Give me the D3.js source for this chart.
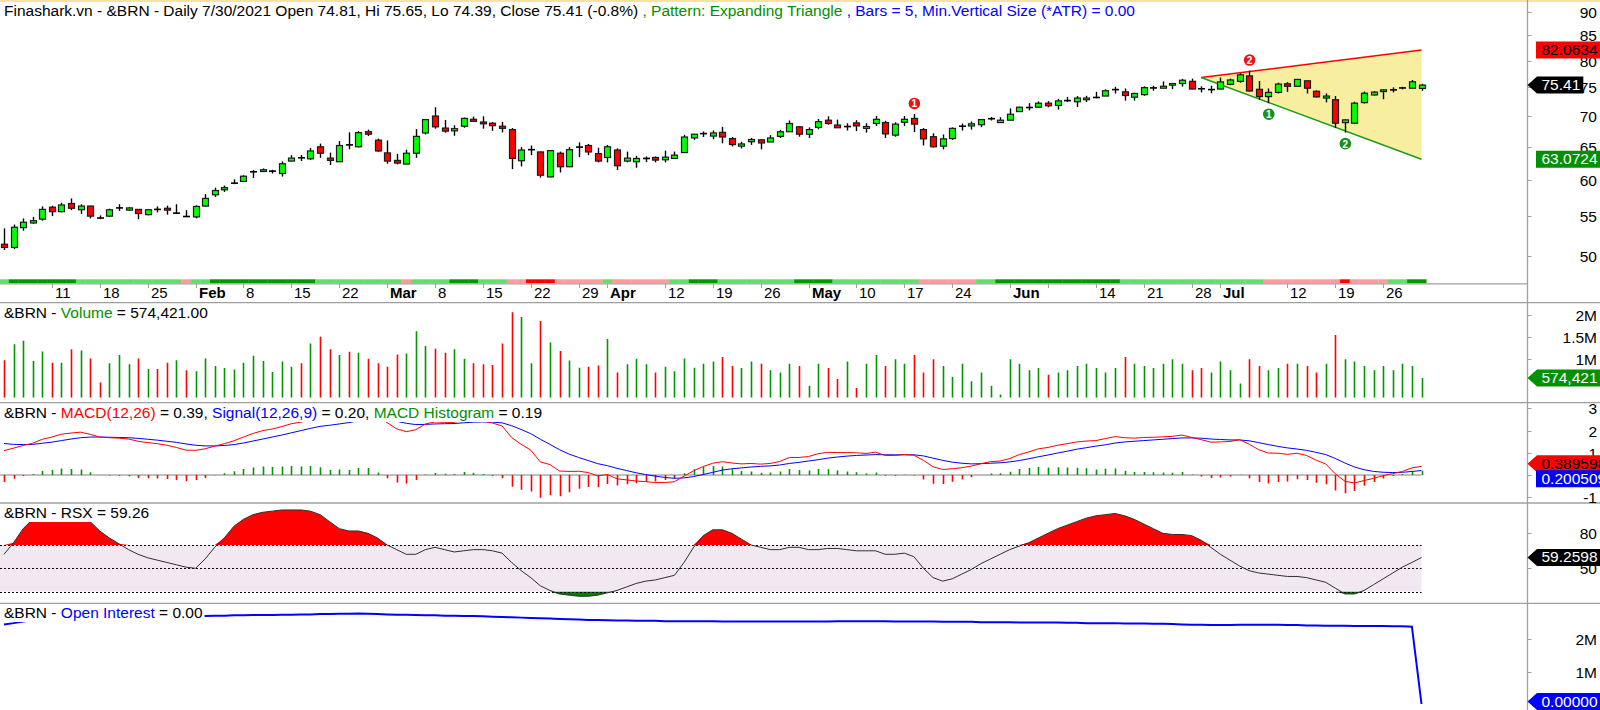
<!DOCTYPE html>
<html><head><meta charset="utf-8">
<script src="https://cdn.jsdelivr.net/npm/d3@7"></script>
<style>body{margin:0;background:#fff;} svg{display:block;font-family:Arial,"Liberation Sans",sans-serif;}</style>
</head><body><svg id="c" width="1600" height="710"></svg>
<script>
// ---------- categories ----------
const holidays = ["2021-04-02"];
const dates = [];
for (let t = Date.UTC(2021,0,4); t <= Date.UTC(2021,6,30); t += 864e5) {
  const d = new Date(t), w = d.getUTCDay(), s = d.toISOString().slice(0,10);
  if (w > 0 && w < 6 && !holidays.includes(s)) dates.push(s);
}
const dateTicks = [["2021-01-11","11"],["2021-01-18","18"],["2021-01-25","25"],["2021-02-01","Feb"],["2021-02-08","8"],["2021-02-15","15"],["2021-02-22","22"],["2021-03-01","Mar"],["2021-03-08","8"],["2021-03-15","15"],["2021-03-22","22"],["2021-03-29","29"],["2021-04-01","Apr"],["2021-04-12","12"],["2021-04-19","19"],["2021-04-26","26"],["2021-05-03","May"],["2021-05-10","10"],["2021-05-17","17"],["2021-05-24","24"],["2021-06-01","Jun"],["2021-06-07",""],["2021-06-14","14"],["2021-06-21","21"],["2021-06-28","28"],["2021-07-01","Jul"],["2021-07-12","12"],["2021-07-19","19"],["2021-07-26","26"]];
const monthLabels = ["Feb","Mar","Apr","May","Jun","Jul"];

// ---------- price series ----------
const open = [51.4,51.0,53.5,54.1,54.6,56.2,55.6,56.7,55.85,56.35,
54.9,55.0,56.0,55.8,55.9,55.2,55.95,56.05,55.35,55.05,
54.9,56.35,57.9,58.6,59.5,59.8,61.0,61.25,61.2,60.95,
62.8,63.35,63.15,65.0,63.25,62.7,65.4,65.0,67.4,66.05,
64.05,62.9,62.35,64.0,67.2,70.0,68.0,67.55,68.3,69.45,
69.0,68.8,68.3,67.75,62.85,64.45,64.2,60.45,64.0,61.95,
64.75,65.2,63.95,63.35,64.5,62.8,62.7,63.15,63.35,63.0,
63.2,64.1,66.4,67.0,66.7,67.3,66.3,65.1,65.8,66.1,
65.75,66.65,67.4,68.2,67.0,68.1,69.3,68.5,68.2,68.85,
67.95,68.75,68.9,66.85,68.95,69.6,67.75,66.6,65.1,66.3,
68.1,68.35,68.55,69.5,68.9,69.3,70.75,71.4,71.5,72.2,
71.8,72.6,72.45,72.8,73.15,73.45,74.55,74.2,73.25,73.7,
74.85,74.85,75.4,75.7,76.1,74.8,74.55,74.7,75.55,76.1,
77.1,74.65,73.35,74.1,75.65,75.2,76.2,74.3,73.1,72.8,
68.9,68.8,72.3,73.65,74.25,74.5,74.8,74.85,74.81];
const high = [53.4,53.9,54.7,54.9,56.3,56.4,56.8,57.4,56.6,56.4,
55.1,56.0,56.6,56.2,55.95,55.9,56.3,56.4,56.6,55.8,
56.45,58.0,58.9,59.2,60.1,60.7,61.45,61.7,61.5,62.75,
63.7,63.75,64.8,65.5,64.1,65.9,67.3,67.5,67.75,66.3,
66.0,63.9,64.55,67.85,69.5,71.5,69.35,68.45,69.75,69.9,
69.95,69.0,69.0,68.0,64.95,65.2,64.25,64.45,64.25,64.95,
65.7,65.45,64.85,65.3,64.75,64.25,63.6,63.5,63.5,64.4,
64.25,66.9,67.05,67.45,67.6,68.2,66.55,65.8,66.4,66.2,
66.85,67.7,69.25,68.3,68.1,69.5,69.95,69.4,68.8,69.3,
68.8,70.0,69.2,68.95,70.0,70.35,68.0,67.15,66.95,68.1,
68.75,69.1,69.45,69.85,69.8,71.3,71.6,72.2,72.5,72.55,
72.95,73.3,73.45,73.5,74.2,74.65,75.1,74.8,74.05,75.2,
75.3,76.1,75.8,76.55,76.6,75.2,75.3,76.8,76.6,77.6,
78.1,76.15,74.8,75.85,75.95,76.55,76.2,74.45,73.9,73.45,
69.45,72.45,74.25,74.35,74.65,75.0,75.1,76.35,75.65];
const low = [50.7,50.8,53.1,54.0,54.4,55.0,55.5,55.8,55.3,54.7,
54.6,54.9,55.7,55.7,54.6,55.1,55.5,55.2,55.3,54.9,
54.7,56.25,57.6,58.3,59.4,59.75,60.3,61.15,60.95,60.5,
62.75,62.8,62.95,63.3,62.2,62.7,64.6,64.9,66.7,64.2,
62.4,62.3,62.35,63.3,66.95,67.9,67.25,66.75,68.05,69.0,
67.9,67.55,67.3,61.6,62.0,63.7,60.35,60.4,61.1,61.9,
63.4,63.7,62.6,62.6,61.45,62.6,61.8,62.65,62.6,62.6,
63.2,64.1,66.1,66.55,66.2,65.55,65.05,64.75,65.3,64.6,
65.75,66.4,67.4,66.6,66.4,67.8,68.55,68.05,67.6,67.5,
67.25,68.35,66.4,66.6,68.35,67.35,65.2,64.9,64.6,66.1,
67.6,67.75,68.15,69.25,68.9,69.3,70.75,70.95,71.4,71.5,
71.1,72.4,71.55,72.4,73.05,73.45,73.9,72.65,72.65,73.5,
74.4,74.85,74.7,75.15,74.65,74.1,73.95,74.7,75.4,75.85,
74.25,72.8,72.2,73.9,74.2,75.2,73.9,73.2,72.35,68.0,
67.25,68.8,72.15,73.55,72.9,74.1,74.65,74.85,74.39];
const close = [51.0,53.55,54.2,54.4,55.9,55.6,56.5,56.05,56.35,55.0,
54.75,55.85,56.1,56.1,55.35,55.85,55.9,55.8,55.4,54.95,
56.3,57.4,58.5,58.9,59.55,60.55,61.2,61.5,61.3,62.4,
63.25,63.3,64.35,64.0,62.9,65.2,65.3,67.25,67.0,64.35,
62.8,62.5,64.0,66.65,69.4,68.2,67.5,67.9,69.6,69.1,
68.7,68.4,67.95,63.2,64.5,64.55,60.7,64.4,61.95,64.55,
64.95,64.2,62.8,65.0,62.1,63.25,63.2,63.2,62.95,63.4,
63.7,66.55,67.0,67.1,67.2,66.55,65.35,65.45,66.15,65.6,
66.4,67.4,68.75,67.0,67.75,69.05,68.75,68.05,68.25,68.35,
68.25,69.45,67.05,68.65,69.45,68.65,66.25,65.0,66.25,67.95,
68.3,68.7,69.4,69.55,69.3,70.3,71.5,71.45,72.2,71.75,
72.6,72.65,73.1,73.1,73.2,74.4,74.6,73.55,73.9,74.95,
74.9,75.2,75.7,76.3,74.7,74.75,74.6,76.0,76.35,77.3,
74.35,73.35,74.1,75.6,75.2,76.45,74.85,73.3,73.45,68.8,
69.35,72.2,73.95,74.15,74.55,74.55,74.9,76.02,75.41];
// trend ribbon under the price pane: 2 strong up, 1 up, -1 down, -2 strong down
const ribbon = [1,2,2,2,2,2,2,2,1,1, 1,1,1,1,1,1,1,1,1,-1, 1,1,2,2,2,2,2,2,2,2,
2,2,2,1,1,1,1,1,1,1, 1,1,-1,1,1,1,1,2,2,2, 1,1,1,-1,-1,-2,-2,-2,-1,-1,
-1,-1,-1,1,-1,-1,-1,-1,-1,-1, 1,1,2,2,2,1,1,1,1,1, 1,1,1,2,2,2,2,1,1,1,
1,1,1,1,1,1,-1,-1,-1,-1, -1,-1,1,1,2,2,2,2,2,2, 2,2,2,2,2,2,2,1,1,1,
1,1,1,1,1,1,1,1,1,1, 1,1,-1,-1,-1,-1,-1,-1,-1,-1, -2,-1,-1,-1,-1,1,1,2,2];
// expanding triangle
const triStart = "2021-06-29", triEnd = "2021-07-30";
const triApex = 76.8, triUpperEnd = 82.0634, triLowerEnd = 63.0724;
const pivotsHigh = [["2021-05-18","1"],["2021-07-06","2"]];
const pivotsLow = [["2021-07-08","1"],["2021-07-20","2"]];

// ---------- volume (millions) ----------
const volume = [0.98,1.34,1.42,0.96,1.18,0.92,0.92,1.23,1.20,1.02,
0.47,0.91,1.10,0.89,1.02,0.78,0.78,0.92,0.98,0.75,
0.73,1.02,0.85,0.80,0.77,0.92,1.08,0.96,0.71,0.95,
0.83,0.91,1.36,1.51,1.23,1.10,1.17,1.15,1.01,0.91,
0.83,1.11,1.13,1.64,1.30,1.24,1.15,1.23,1.01,0.91,
0.89,0.87,1.36,2.07,1.96,0.91,1.87,1.38,1.19,0.97,
0.81,0.83,0.86,1.46,0.70,0.89,1.01,0.89,0.70,0.83,
0.73,1.02,0.81,0.9,0.95,1.05,0.85,0.8,0.95,0.9,
0.75,0.7,0.9,0.85,0.4,0.9,0.8,0.55,0.95,0.35,
0.9,1.1,0.85,1.0,0.9,1.1,0.7,1.0,0.85,0.6,
0.9,0.5,0.7,0.4,0.2,1.0,0.9,0.75,0.8,0.65,
0.7,0.75,0.85,0.9,0.8,0.7,0.8,1.05,0.9,0.85,
0.8,0.9,1.0,0.9,0.75,0.8,0.7,0.95,0.75,0.45,
1.0,0.85,0.75,0.8,0.9,0.9,0.85,0.7,0.9,1.55,
1.0,0.95,0.85,0.75,0.85,0.75,0.9,0.85,0.574421];

// ---------- MACD(12,26), Signal(9), Histogram ----------
const macd = [1.10,1.21,1.33,1.43,1.61,1.71,1.84,1.89,1.93,1.83,
1.71,1.68,1.66,1.62,1.52,1.46,1.41,1.34,1.24,1.12,
1.11,1.18,1.30,1.41,1.54,1.71,1.87,2.00,2.07,2.18,
2.31,2.38,2.50,2.54,2.46,2.55,2.59,2.76,2.84,2.66,
2.36,2.08,1.95,2.04,2.30,2.39,2.37,2.37,2.48,2.48,
2.43,2.34,2.21,1.69,1.38,1.12,0.59,0.47,0.18,0.16,
0.17,0.11,-0.04,0.02,-0.17,-0.22,-0.27,-0.30,-0.34,-0.34,
-0.30,-0.05,0.19,0.38,0.53,0.60,0.54,0.50,0.52,0.49,
0.52,0.61,0.79,0.79,0.83,0.96,1.02,1.01,1.01,1.00,
0.97,1.03,0.88,0.88,0.92,0.89,0.66,0.37,0.25,0.28,
0.33,0.40,0.51,0.60,0.63,0.74,0.92,1.04,1.18,1.24,
1.34,1.41,1.49,1.53,1.55,1.64,1.73,1.68,1.66,1.69,
1.70,1.72,1.74,1.80,1.69,1.59,1.48,1.49,1.51,1.59,
1.39,1.14,0.99,0.98,0.93,0.98,0.88,0.67,0.50,0.05,
-0.28,-0.36,-0.25,-0.15,-0.03,0.06,0.16,0.32,0.389598];
const signal = [1.42,1.38,1.37,1.38,1.43,1.48,1.55,1.62,1.68,1.71,
1.71,1.70,1.69,1.68,1.65,1.61,1.57,1.52,1.47,1.40,
1.34,1.31,1.31,1.33,1.37,1.44,1.53,1.62,1.71,1.80,
1.90,2.00,2.10,2.19,2.24,2.30,2.36,2.44,2.52,2.55,
2.51,2.42,2.33,2.27,2.28,2.30,2.31,2.32,2.35,2.38,
2.39,2.38,2.35,2.22,2.05,1.86,1.61,1.38,1.14,0.94,
0.79,0.65,0.51,0.42,0.30,0.20,0.10,0.02,-0.05,-0.11,
-0.15,-0.13,-0.07,0.02,0.12,0.22,0.28,0.32,0.36,0.39,
0.41,0.45,0.52,0.57,0.63,0.69,0.76,0.81,0.85,0.88,
0.90,0.92,0.91,0.91,0.91,0.91,0.86,0.76,0.66,0.58,
0.53,0.50,0.51,0.53,0.55,0.59,0.65,0.73,0.82,0.90,
0.99,1.07,1.16,1.23,1.30,1.36,1.44,1.49,1.52,1.55,
1.58,1.61,1.64,1.67,1.67,1.66,1.62,1.60,1.58,1.58,
1.54,1.46,1.37,1.29,1.22,1.17,1.11,1.02,0.92,0.746,
0.541,0.361,0.239,0.161,0.123,0.110,0.12,0.16,0.200509];
const hist = [-0.32,-0.17,-0.04,0.05,0.18,0.23,0.29,0.27,0.25,0.12,
0.00,-0.02,-0.03,-0.06,-0.13,-0.15,-0.16,-0.18,-0.23,-0.28,
-0.23,-0.13,-0.01,0.08,0.17,0.27,0.34,0.38,0.36,0.38,
0.41,0.38,0.40,0.35,0.22,0.25,0.23,0.32,0.32,0.11,
-0.15,-0.34,-0.38,-0.23,0.02,0.09,0.06,0.05,0.13,0.10,
0.04,-0.04,-0.14,-0.53,-0.67,-0.74,-1.02,-0.91,-0.96,-0.78,
-0.62,-0.54,-0.55,-0.40,-0.47,-0.42,-0.37,-0.32,-0.29,-0.23,
-0.15,0.08,0.26,0.36,0.41,0.38,0.26,0.18,0.16,0.10,
0.11,0.16,0.27,0.22,0.20,0.27,0.26,0.20,0.16,0.12,
0.07,0.11,-0.03,-0.03,0.01,-0.02,-0.20,-0.39,-0.41,-0.30,
-0.20,-0.10,0.00,0.07,0.08,0.15,0.27,0.31,0.36,0.34,
0.35,0.34,0.33,0.30,0.25,0.28,0.29,0.19,0.14,0.14,
0.12,0.11,0.10,0.13,0.02,-0.07,-0.14,-0.11,-0.07,0.01,
-0.15,-0.32,-0.38,-0.31,-0.29,-0.19,-0.23,-0.35,-0.42,-0.696,
-0.821,-0.721,-0.489,-0.311,-0.153,-0.05,0.04,0.16,0.189089];

// ---------- RSX ----------
const rsx = [62,72,84,92,97,99,100,99,96,90,
82,76,71,66,62,59,57,55,53,51,
50,58,68,76,86,92,96,98,99,100,
100,100,99,96,90,84,82,82,80,76,
70,66,62,62,66,68,66,64,65,66,
66,65,63,55,48,42,35,31,28,27,
26,26,27,29,31,34,37,39,40,42,
44,55,68,78,83,83,80,75,70,68,
66,66,68,68,66,66,67,67,66,65,
65,65,62,62,63,60,50,42,39,41,
45,49,54,58,62,66,69,72,76,80,
84,87,90,93,95,96,97,95,92,88,
84,80,79,79,78,74,68,62,57,52,
48,46,45,44,43,43,42,40,38,33,
28,28,31,36,41,46,51,55,59.2598];

// ---------- Open interest (millions) ----------
const oi = [2.46,2.5,2.55,2.6,2.62,2.63,2.64,2.65,2.66,2.67,2.67,2.68,2.68,2.69,2.69,2.7,2.7,2.71,2.71,2.72,
2.72,2.72,2.73,2.73,2.74,2.74,2.75,2.75,2.75,2.76,2.76,2.77,2.77,2.78,2.78,2.79,2.79,2.8,2.79,2.78,
2.77,2.76,2.76,2.75,2.74,2.74,2.73,2.73,2.72,2.72,2.71,2.7,2.69,2.68,2.67,2.66,2.65,2.64,2.63,2.62,
2.61,2.6,2.6,2.59,2.58,2.58,2.57,2.57,2.57,2.56,2.56,2.56,2.56,2.56,2.56,2.55,2.55,2.55,2.55,2.55,
2.55,2.55,2.55,2.55,2.55,2.55,2.55,2.56,2.56,2.56,2.56,2.56,2.56,2.55,2.55,2.55,2.55,2.55,2.54,2.54,
2.54,2.54,2.53,2.53,2.53,2.53,2.52,2.52,2.52,2.52,2.52,2.51,2.51,2.5,2.5,2.5,2.5,2.49,2.49,2.49,
2.48,2.48,2.47,2.46,2.45,2.45,2.44,2.44,2.44,2.45,2.45,2.45,2.45,2.45,2.44,2.44,2.43,2.43,2.42,2.42,
2.42,2.41,2.41,2.41,2.41,2.4,2.4,2.39,0];

// ---------- layout ----------
const svg = d3.select("#c");
const AX = 1527.5, W = 1600, H = 710;
const GRAY = "#a0a0a0", DGREEN = "#009600", FONT = 15.5;
const panes = {price:[0,283.3], vol:[302.7,402.7], macd:[402.7,503], rsx:[503,603.3], oi:[603.3,710]};
const x = d3.scalePoint().domain(dates).range([4, 1421.5]);
const step = x.step();
const cx = d => Math.round(x(d));

const yP = d3.scaleLog().domain([50, 90]).range([255.7, 11.7]);
const yV = d3.scaleLinear().domain([0, 2]).range([403.3, 315.3]);
const yM = d3.scaleLinear().domain([-1, 3]).range([497.2, 408.4]);
const yR = d3.scaleLinear().domain([50, 80]).range([568.3, 533.3]);
const yO = d3.scaleLinear().domain([0, 2]).range([704, 639.3]);

svg.append("rect").attr("width", W).attr("height", H).attr("fill", "#fff");
svg.append("rect").attr("width", W).attr("height", 2).attr("fill", "#f7e2a0");

const defs = svg.append("defs");
Object.entries(panes).forEach(([k,[a,b]]) => {
  defs.append("clipPath").attr("id","clip-"+k).append("rect").attr("x",0).attr("y",a).attr("width",AX).attr("height",b-a);
});
const pane = k => svg.append("g").attr("clip-path", `url(#clip-${k})`);

// ---------- price pane ----------
const gP = pane("price");
const triU = [[triStart, triApex],[triEnd, triUpperEnd]];
const triL = [[triStart, triApex],[triEnd, triLowerEnd]];
gP.append("path").attr("fill", "#f8eea0")
  .attr("d", d3.line()([[x(triStart), yP(triApex)],[x(triEnd), yP(triUpperEnd)],[x(triEnd), yP(triLowerEnd)]]) + "Z");
gP.append("path").attr("fill","none").attr("stroke","#ff0000").attr("stroke-width",1.5)
  .attr("d", d3.line().x(d=>x(d[0])).y(d=>yP(d[1]))(triU));
gP.append("path").attr("fill","none").attr("stroke","#1a9a1a").attr("stroke-width",1.5)
  .attr("d", d3.line().x(d=>x(d[0])).y(d=>yP(d[1]))(triL));

const idx = d3.range(dates.length);
gP.selectAll("line.wick").data(idx).join("line").attr("class","wick")
  .attr("x1", i => cx(dates[i]) + 0.5).attr("x2", i => cx(dates[i]) + 0.5)
  .attr("y1", i => yP(high[i])).attr("y2", i => yP(low[i]))
  .attr("stroke", "#000").attr("stroke-width", 1.4);
gP.selectAll("rect.body").data(idx.filter(i => Math.abs(yP(open[i]) - yP(close[i])) >= 1.5)).join("rect").attr("class","body")
  .attr("x", i => cx(dates[i]) - 2.5).attr("width", 6)
  .attr("y", i => yP(Math.max(open[i], close[i]))).attr("height", i => Math.abs(yP(open[i]) - yP(close[i])))
  .attr("fill", i => close[i] >= open[i] ? "#00ff00" : "#ff0000")
  .attr("stroke", "#1a1a1a").attr("stroke-width", 1.2);
gP.selectAll("line.doji").data(idx.filter(i => Math.abs(yP(open[i]) - yP(close[i])) < 1.5)).join("line").attr("class","doji")
  .attr("x1", i => cx(dates[i]) - 3).attr("x2", i => cx(dates[i]) + 4)
  .attr("y1", i => yP(close[i])).attr("y2", i => yP(close[i]))
  .attr("stroke", "#000").attr("stroke-width", 1.6);

function marker(g, px, py, label, color) {
  g.append("circle").attr("cx", px).attr("cy", py).attr("r", 5.8).attr("fill", color);
  g.append("text").attr("x", px).attr("y", py + 4).attr("text-anchor","middle")
    .attr("fill","#fff").style("font-size","10px").style("font-weight","bold").text(label);
}
pivotsHigh.forEach(([d,l]) => marker(gP, x(d) + 0.5, yP(high[dates.indexOf(d)]) - 10.5, l, "#ee1111"));
pivotsLow.forEach(([d,l]) => marker(gP, x(d) + 0.5, yP(low[dates.indexOf(d)]) + 11, l, "#1a8f1a"));

const ribbonColor = {"2": DGREEN, "1": "#66dd66", "-1": "#ff9c9c", "-2": "#ff0000"};
svg.append("g").selectAll("rect").data(idx).join("rect")
  .attr("x", i => x(dates[i]) - step/2).attr("width", step + 0.3)
  .attr("y", 279.3).attr("height", 4)
  .attr("fill", i => ribbonColor[ribbon[i]]);

svg.append("line").attr("x1",0).attr("x2",AX).attr("y1",283.8).attr("y2",283.8).attr("stroke",GRAY).attr("stroke-width",1.2);
const gX = svg.append("g");
dateTicks.forEach(([d, l]) => {
  const px = cx(d) + 0.5;
  gX.append("line").attr("x1",px).attr("x2",px).attr("y1",284).attr("y2",288).attr("stroke",GRAY);
  gX.append("text").attr("x", px + 2.5).attr("y", 298).text(l)
    .style("font-size", "15px").style("font-weight", monthLabels.includes(l) ? "bold" : "normal").attr("fill","#000");
});

// ---------- volume pane ----------
const gV = pane("vol");
gV.selectAll("line").data(idx).join("line")
  .attr("x1", i => cx(dates[i]) + 0.5).attr("x2", i => cx(dates[i]) + 0.5)
  .attr("y1", 397.5).attr("y2", i => yV(volume[i]))
  .attr("stroke", i => close[i] >= open[i] ? DGREEN : "#ff0000").attr("stroke-width", 1.6);

// ---------- MACD pane ----------
const gM = pane("macd");
gM.append("line").attr("x1",0).attr("x2",x(dates[dates.length-1])).attr("y1",yM(0)).attr("y2",yM(0)).attr("stroke","#808080");
gM.selectAll("line.h").data(idx).join("line").attr("class","h")
  .attr("x1", i => cx(dates[i]) + 0.5).attr("x2", i => cx(dates[i]) + 0.5)
  .attr("y1", yM(0)).attr("y2", i => yM(hist[i]))
  .attr("stroke", i => hist[i] >= 0 ? DGREEN : "#ff0000").attr("stroke-width", 1.6);
gM.append("path").attr("fill","none").attr("stroke","#0000ff").attr("stroke-width",1)
  .attr("d", d3.line().x((d,i)=>x(dates[i])).y(d=>yM(d))(signal));
gM.append("path").attr("fill","none").attr("stroke","#ff0000").attr("stroke-width",1)
  .attr("d", d3.line().x((d,i)=>x(dates[i])).y(d=>yM(d))(macd));

// ---------- RSX pane ----------
const gR = pane("rsx");
const xLast = x(dates[dates.length-1]);
gR.append("rect").attr("x",0).attr("width",xLast).attr("y",yR(70)).attr("height",yR(30)-yR(70)).attr("fill","#f2e8f2");
gR.append("path").attr("fill","#ff0000")
  .attr("d", d3.area().x((d,i)=>x(dates[i])).y0(yR(70)).y1(d=>yR(Math.max(d,70)))(rsx));
gR.append("path").attr("fill","#008000")
  .attr("d", d3.area().x((d,i)=>x(dates[i])).y0(yR(30)).y1(d=>yR(Math.min(d,30)))(rsx));
[30,50,70].forEach(v => gR.append("line").attr("x1",0).attr("x2",xLast).attr("y1",Math.round(yR(v))+0.5).attr("y2",Math.round(yR(v))+0.5)
  .attr("stroke","#000").attr("stroke-dasharray","2,2"));
gR.append("path").attr("fill","none").attr("stroke","#303030").attr("stroke-width",1)
  .attr("d", d3.line().x((d,i)=>x(dates[i])).y(d=>yR(d))(rsx));

// ---------- OI pane ----------
const gO = pane("oi");
gO.append("path").attr("fill","none").attr("stroke","#0000ff").attr("stroke-width",2)
  .attr("d", d3.line().x((d,i)=>x(dates[i])).y(d=>yO(d))(oi));

// ---------- separators and right axis ----------
[302.7, 402.7, 503, 603.3].forEach(y => svg.append("line").attr("x1",0).attr("x2",W).attr("y1",y).attr("y2",y).attr("stroke",GRAY).attr("stroke-width",1.3));
svg.append("line").attr("x1",AX).attr("x2",AX).attr("y1",0).attr("y2",H).attr("stroke",GRAY).attr("stroke-width",1.3);

function axisTicks(scale, values, fmt) {
  const g = svg.append("g");
  values.forEach(v => {
    const y = Math.round(scale(v)) + 0.5;
    g.append("line").attr("x1",AX).attr("x2",AX+4).attr("y1",y).attr("y2",y).attr("stroke",GRAY);
    g.append("text").attr("x",1597).attr("y",y+5).attr("text-anchor","end").style("font-size",FONT+"px").text(fmt(v));
  });
}
axisTicks(yP, [50,55,60,65,70,75,80,85,90], d => d);
axisTicks(yV, [1,1.5,2], d => d + "M");
axisTicks(yM, [-1,0,1,2,3], d => d);
axisTicks(yR, [50,80], d => d);
axisTicks(yO, [1,2], d => d + "M");

function valueLabel(yc, text, bg, fg, arrow) {
  const g = svg.append("g");
  const t = g.append("text").attr("x", 1541.5).attr("y", yc + 5).attr("fill", fg).style("font-size", FONT+"px").text(text);
  const w = t.node().getComputedTextLength();
  const x1 = Math.min(W, 1541.5 + w + 3), h = 17, xb = arrow ? 1537 : 1536;
  const pts = arrow ? [[AX,yc],[xb,yc-h/2],[x1,yc-h/2],[x1,yc+h/2],[xb,yc+h/2]]
                    : [[xb,yc-h/2],[x1,yc-h/2],[x1,yc+h/2],[xb,yc+h/2]];
  g.insert("polygon","text").attr("points", pts.map(p=>p.join(",")).join(" ")).attr("fill", bg);
}
const n = dates.length - 1;
valueLabel(yP(triUpperEnd), String(triUpperEnd), "#ff0000", "#000", false);
valueLabel(yP(triLowerEnd), String(triLowerEnd), "#009000", "#fff", false);
valueLabel(yP(close[n]), close[n].toFixed(2), "#000", "#fff", true);
valueLabel(yV(volume[n]), d3.format(",")(Math.round(volume[n]*1e6)), "#009000", "#fff", true);
const mY = yM(macd[n]) - 2.6;
valueLabel(mY, macd[n].toFixed(6), "#ff0000", "#000", true);
valueLabel(mY + 15.1, signal[n].toFixed(6), "#0000ff", "#fff", false);
valueLabel(yR(rsx[n]), rsx[n].toFixed(4), "#000", "#fff", true);
valueLabel(Math.min(yO(oi[n]), 701.5), oi[n].toFixed(5), "#0000ff", "#fff", true);

// ---------- titles (opaque background, as in the original) ----------
function title(y, parts) {
  const g = svg.append("g");
  const t = g.append("text").attr("x", 4).attr("y", y).style("font-size", FONT + "px");
  parts.forEach(([s, c]) => t.append("tspan").attr("fill", c).text(s));
  const w = t.node().getComputedTextLength();
  g.insert("rect", "text").attr("x", 2).attr("y", y - 13.5).attr("width", w + 4).attr("height", 17.5).attr("fill", "#fff");
}
const pct = ((close[n] / close[n-1] - 1) * 100).toFixed(1);
title(16, [[`Finashark.vn - &BRN - Daily 7/30/2021 Open ${open[n]}, Hi ${high[n]}, Lo ${low[n]}, Close ${close[n]} (${pct}%) `, "#000"],
  [", Pattern: Expanding Triangle ", "#009000"], [", Bars = 5, Min.Vertical Size (*ATR) = 0.00", "#0000ff"]]);
title(318, [["&BRN - ", "#000"], ["Volume", "#009000"], [" = " + d3.format(",.2f")(volume[n]*1e6), "#000"]]);
title(418, [["&BRN - ", "#000"], ["MACD(12,26)", "#ff0000"], [" = " + macd[n].toFixed(2) + ", ", "#000"], ["Signal(12,26,9)", "#0000ff"],
  [" = " + signal[n].toFixed(2) + ", ", "#000"], ["MACD Histogram", "#009000"], [" = " + hist[n].toFixed(2), "#000"]]);
title(518, [["&BRN - RSX = " + rsx[n].toFixed(2), "#000"]]);
title(618, [["&BRN - ", "#000"], ["Open Interest", "#0000ff"], [" = " + oi[n].toFixed(2), "#000"]]);
</script></body></html>
